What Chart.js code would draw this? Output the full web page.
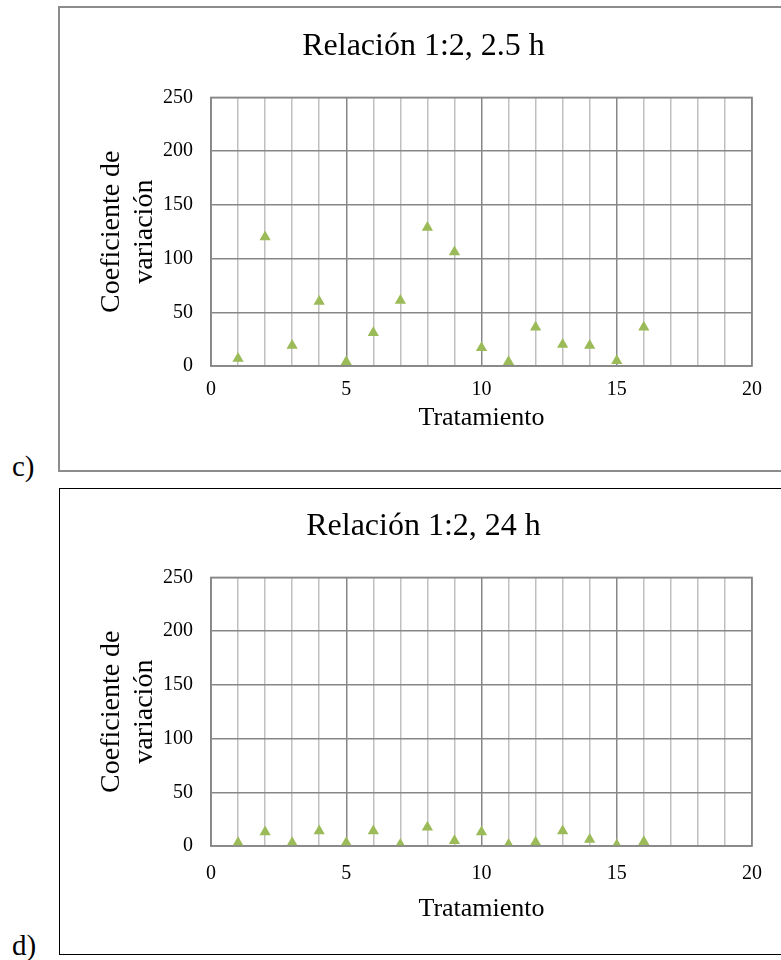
<!DOCTYPE html>
<html>
<head>
<meta charset="utf-8">
<script src="https://cdn.jsdelivr.net/npm/chart.js@4.4.0/dist/chart.umd.min.js"></script>
<style>
  body { margin: 0; background: #fff; width: 781px; height: 960px; overflow: hidden; position: relative;
         font-family: "Liberation Serif", "Times New Roman", serif; }
  .box { position: absolute; background: #fff; }
  #boxC { left: 58px; top: 6px; width: 760px; height: 462px; border: 2px solid #8c8c8c; }
  #boxD { left: 59px; top: 488px; width: 760px; height: 465px; border: 1.5px solid #000; }
  .box canvas { position: absolute; left: 0; top: 0; }
  .lbl { position: absolute; font-size: 29px; color: #000; }
</style>
</head>
<body>
<div class="lbl" style="left:12px;top:450px;">c)</div>
<div class="lbl" style="left:12px;top:929px;">d)</div>
<div class="box" id="boxC"><canvas id="chartC" width="722" height="462"></canvas></div>
<div class="box" id="boxD"><canvas id="chartD" width="722" height="465"></canvas></div>
<script>
// datos
const tratamiento = [1, 2, 3, 4, 5, 6, 7, 8, 9, 10, 11, 12, 13, 14, 15, 16];
const cv25h = [7, 120, 19, 60, 4, 31, 61, 129, 106, 17, 4, 36, 20, 19, 5, 36];
const cv24h = [3, 13, 3, 14, 3, 14, 1.5, 17.5, 5, 13, 1.5, 3.5, 14, 6, 1, 4];
const xTicks = [0, 5, 10, 15, 20];
const yTicks = [0, 50, 100, 150, 200, 250];

const FONT = "'Liberation Serif', 'Times New Roman', serif";
const MAJOR = "#878787";
const MINOR = "#c0c0c0";

function makeChart(id, title, values, lay) {
  const ctx = document.getElementById(id).getContext("2d");
  return new Chart(ctx, {
    type: "scatter",
    data: {
      datasets: [{
        data: tratamiento.map((t, i) => ({ x: t, y: values[i] })),
        pointStyle: "triangle",
        pointRadius: 6.5,
        pointBackgroundColor: "#9bbb59",
        pointBorderWidth: 0,
        pointBorderColor: "#9bbb59"
      }]
    },
    options: {
      responsive: false,
      animation: false,
      layout: { padding: lay.pad },
      plugins: {
        legend: { display: false },
        tooltip: { enabled: false },
        title: {
          display: true,
          text: title,
          color: "#000",
          font: { family: FONT, size: 32, weight: "normal", lineHeight: 1.2 },
          padding: lay.titlePad
        }
      },
      scales: {
        x: {
          type: "linear",
          min: xTicks[0],
          max: xTicks[xTicks.length - 1],
          afterBuildTicks: axis => {
            axis.ticks = [];
            for (let v = 0; v <= 20; v++) axis.ticks.push({ value: v });
          },
          afterFit: axis => { axis.height = lay.xHeight; },
          ticks: {
            color: "#000",
            font: { family: FONT, size: 20, lineHeight: 1.2 },
            padding: lay.xTickPad,
            autoSkip: false,
            maxRotation: 0,
            callback: v => (xTicks.includes(v) ? String(v) : "")
          },
          grid: {
            drawTicks: false,
            lineWidth: 1.5,
            color: c => (c.tick && c.tick.value % 5 === 0 ? MAJOR : MINOR)
          },
          border: { color: MAJOR, width: 1.5 },
          title: {
            display: true,
            text: "Tratamiento",
            color: "#000",
            font: { family: FONT, size: 26, lineHeight: 1.2 },
            padding: { top: 0, bottom: lay.xTitlePad }
          }
        },
        y: {
          min: yTicks[0],
          max: yTicks[yTicks.length - 1],
          afterFit: axis => { axis.width = 116; },
          ticks: {
            stepSize: 50,
            color: "#000",
            font: { family: FONT, size: 20 },
            padding: 18
          },
          grid: { drawTicks: false, lineWidth: 1.5, color: MAJOR },
          border: { color: MAJOR, width: 1.5 },
          title: {
            display: true,
            text: ["Coeficiente de", "variación"],
            color: "#000",
            font: { family: FONT, size: 28, lineHeight: 1.18 },
            padding: { top: 0, bottom: 0 }
          }
        }
      }
    },
    plugins: [{
      id: "frame",
      afterDraw(chart) {
        const a = chart.chartArea, c = chart.ctx;
        c.save();
        c.strokeStyle = MAJOR;
        c.lineWidth = 1.5;
        c.strokeRect(a.left, a.top, a.right - a.left, a.bottom - a.top);
        c.restore();
      }
    }]
  });
}

makeChart("chartC", "Relación 1:2, 2.5 h", cv25h, {
  pad: { left: 35, right: 30, top: 0, bottom: 34 },
  titlePad: { top: 19, bottom: 32 },
  xHeight: 70, xTickPad: 12, xTitlePad: 2
});
makeChart("chartD", "Relación 1:2, 24 h", cv24h, {
  pad: { left: 35, right: 30, top: 0, bottom: 26 },
  titlePad: { top: 18, bottom: 32 },
  xHeight: 82, xTickPad: 16, xTitlePad: 3
});
</script>
</body>
</html>
